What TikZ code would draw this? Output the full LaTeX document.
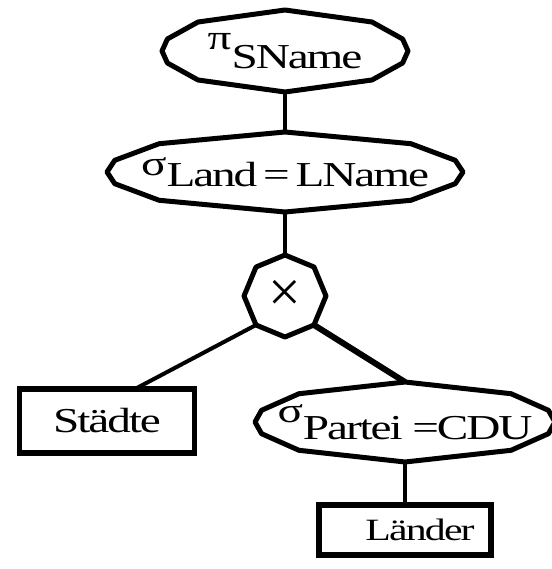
\documentclass[tikz,border=0pt]{standalone}
\usepackage{fontspec}
\setmainfont{Liberation Serif}[FakeStretch=1.35, LetterSpace=-6]
\newfontfamily\plainserif{Liberation Serif}
\usepackage{tikz}
\usetikzlibrary{positioning}

\tikzset{
  opnode/.style={rectangle, inner sep=0pt, outer sep=0pt},
  relbox/.style={draw, rectangle, line width=5.5pt, inner sep=0pt, outer sep=0pt},
  opline/.style={line width=5pt, line join=round},
  treeedge/.style={line width=4pt},
}

\begin{document}
\begin{tikzpicture}[x=1pt, y=1pt, font=\fontsize{35}{40}\selectfont]
            \useasboundingbox (0,0) rectangle (551,-569);

            \node [opnode, minimum width=246pt, minimum height=82pt] (pi) at (285,-51) {\raisebox{19pt}{π}SName};
            \node [opnode, minimum width=356pt, minimum height=80pt, below=40pt of pi] (sel) {\raisebox{11pt}{σ}Land\,=\,LName};
            \node [circle, inner sep=0pt, outer sep=0pt, minimum size=82pt, below=43pt of sel, font=\plainserif\fontsize{58}{58}\selectfont] (times) {×};
            \node [relbox, minimum width=175pt, minimum height=64pt, below=52pt of times, xshift=-178pt] (staedte) {Städte};
            \node [opnode, minimum width=300pt, minimum height=80pt, below=45pt of times, xshift=120pt] (selp) {\raisebox{17pt}{σ}Partei =CDU};
            \node [relbox, minimum width=172pt, minimum height=50pt, below=43pt of selp, font=\fontsize{31}{36}\selectfont] (laender) {\hspace{30pt}Länder};

            % operator outlines
            \foreach \n/\a/\b in {pi/123/41, sel/178/40, selp/150/40}
                \draw [opline] ([shift={(0:\a pt and \b pt)}]\n.center)
                    \foreach \t in {17,45,90,135,163,180,197,225,270,315,343} { -- ([shift={(\t:\a pt and \b pt)}]\n.center) } -- cycle;
            \draw [opline] (times.0) \foreach \t in {45,90,...,315} { -- (times.\t) } -- cycle;

            \draw [treeedge] (pi.south) -- (sel.north);
            \draw [treeedge] (sel.south) -- (times.north);
            \draw [treeedge] (times.225) -- ([xshift=28pt]staedte.north);
            \draw [treeedge, line width=6pt] (times.315) -- (selp.north);
            \draw [treeedge] (selp.south) -- (laender.north);
        \end{tikzpicture}
\end{document}
